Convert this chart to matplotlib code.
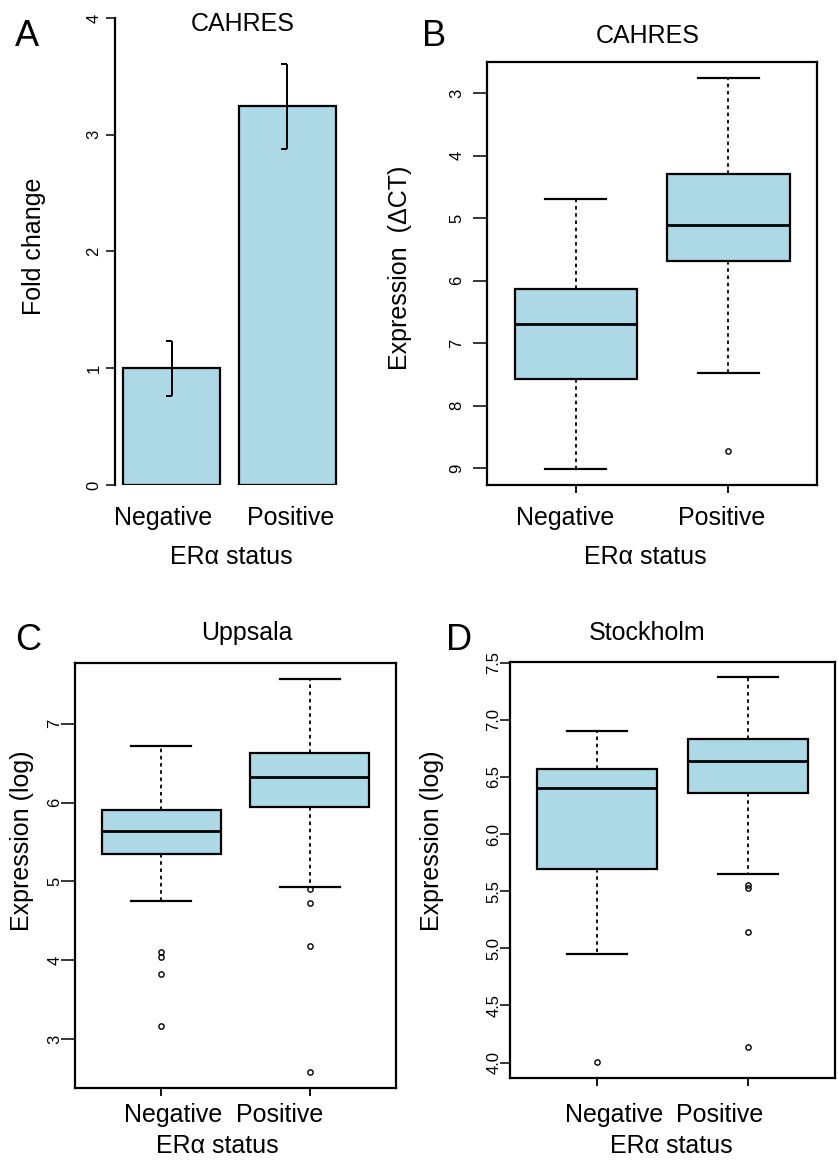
import matplotlib
matplotlib.use('Agg')
import matplotlib.pyplot as plt
import numpy as np

plt.rcParams['font.family'] = ['Liberation Sans', 'DejaVu Sans']

# ---------------- data ----------------
groups = ['Negative', 'Positive']

# Panel A: CAHRES fold change (bar + error)
fold_change = [1.00, 3.25]
fold_err_low = [0.76, 2.88]
fold_err_high = [1.23, 3.61]
a_ticks = [0, 1, 2, 3, 4]

# Panel B: CAHRES expression (delta CT), y axis reversed
b_whislo = [4.70, 2.75]
b_q1 = [6.14, 4.30]
b_med = [6.69, 5.11]
b_q3 = [7.58, 5.68]
b_whishi = [9.02, 7.47]
b_fliers = [[], [8.73]]
b_ticks = [3, 4, 5, 6, 7, 8, 9]

# Panel C: Uppsala
c_whislo = [4.75, 4.93]
c_q1 = [5.35, 5.94]
c_med = [5.64, 6.33]
c_q3 = [5.90, 6.63]
c_whishi = [6.72, 7.57]
c_fliers = [[4.10, 4.04, 3.83, 3.16], [4.90, 4.72, 4.18, 2.58]]
c_ticks = [3, 4, 5, 6, 7]

# Panel D: Stockholm
d_whislo = [4.95, 5.65]
d_q1 = [5.69, 6.36]
d_med = [6.40, 6.64]
d_q3 = [6.565, 6.83]
d_whishi = [6.90, 7.37]
d_fliers = [[4.005], [5.55, 5.53, 5.14, 4.14]]
d_ticks = [4.0, 4.5, 5.0, 5.5, 6.0, 6.5, 7.0, 7.5]
d_ticklabels = ['4.0', '4.5', '5.0', '5.5', '6.0', '6.5', '7.0', '7.5']

FILL = '#ADD8E6'
W, H = 838, 1162
fig = plt.figure(figsize=(W / 100, H / 100), dpi=100)

TICK_FS = 12
LAB_FS = 18
TITLE_FS = 18
LET_FS = 26
PT = 72 / 100  # points per pixel


def ax_px(x0, y0, x1, y1):
    return fig.add_axes([x0 / W, 1 - y1 / H, (x1 - x0) / W, (y1 - y0) / H])


def ftext(x, y, s, **kw):
    fig.text(x / W, 1 - y / H, s, ha='center', va='center', **kw)


def style_y(ax, ticks, labels=None, ticklen=10, labdist=28):
    ax.set_yticks(ticks)
    ax.set_yticklabels(labels if labels is not None else [str(t) for t in ticks],
                       rotation=90, va='center', ha='center', fontsize=TICK_FS)
    ax.tick_params(axis='y', direction='out', length=ticklen * PT, width=1.1,
                   pad=(labdist - ticklen - 8) * PT)


def boxpanel(ax, whislo, q1, med, q3, whishi, fliers):
    stats = []
    for i in range(len(groups)):
        stats.append(dict(whislo=whislo[i], q1=q1[i], med=med[i], q3=q3[i],
                          whishi=whishi[i], fliers=fliers[i]))
    ax.bxp(stats, positions=[1, 2], widths=0.8, capwidths=0.4, patch_artist=True,
           boxprops=dict(facecolor=FILL, edgecolor='black', linewidth=1.6),
           medianprops=dict(color='black', linewidth=2.0),
           whiskerprops=dict(color='black', linewidth=1.3, linestyle=(0, (2, 2))),
           capprops=dict(color='black', linewidth=1.6),
           flierprops=dict(marker='o', markersize=3.8, markerfacecolor='none',
                           markeredgecolor='black', markeredgewidth=1.0))
    ax.set_xlim(0.42, 2.58)
    ax.set_xticks([1, 2])
    ax.set_xticklabels([])
    for s in ax.spines.values():
        s.set_linewidth(1.6)
    ax.tick_params(axis='x', direction='out', length=8 * PT, width=1.3)


# ---------------- Panel A ----------------
axA = ax_px(115, 18, 344, 485)
xpos = [0.7, 1.9]
axA.bar(xpos, fold_change, width=1.0, color=FILL, edgecolor='black', linewidth=1.6)
axA.vlines(xpos, fold_err_low, fold_err_high, color='black', linewidth=1.4)
cap = [(-1, 0), (0, 0)]
axA.plot(xpos, fold_err_high, linestyle='none', marker=cap, markersize=8,
         markeredgecolor='black', markeredgewidth=1.4)
axA.plot(xpos, fold_err_low, linestyle='none', marker=cap, markersize=8,
         markeredgecolor='black', markeredgewidth=1.4)
axA.set_xlim(0.112, 2.488)
axA.set_ylim(0, 4)
for k in ['top', 'right', 'bottom']:
    axA.spines[k].set_visible(False)
axA.spines['left'].set_linewidth(1.6)
style_y(axA, a_ticks, ticklen=9, labdist=29)
axA.set_xticks([])

ftext(27, 36, 'A', fontsize=LET_FS)
ftext(243, 24, 'CAHRES', fontsize=TITLE_FS)
ftext(34, 246, 'Fold change', fontsize=LAB_FS, rotation=90)
ftext(163, 518, groups[0], fontsize=LAB_FS)
ftext(291, 518, groups[1], fontsize=LAB_FS)
ftext(231, 557, 'ERα status', fontsize=LAB_FS)

# ---------------- Panel B ----------------
axB = ax_px(487, 62, 817, 485)
boxpanel(axB, b_whislo, b_q1, b_med, b_q3, b_whishi, b_fliers)
axB.set_ylim(9.27, 2.5)
style_y(axB, b_ticks, ticklen=14, labdist=38)
ftext(434, 37, 'B', fontsize=LET_FS)
ftext(648, 36, 'CAHRES', fontsize=TITLE_FS)
ftext(400, 268, 'Expression  (ΔCT)', fontsize=LAB_FS, rotation=90)
ftext(565, 518, groups[0], fontsize=LAB_FS)
ftext(722, 518, groups[1], fontsize=LAB_FS)
ftext(645, 557, 'ERα status', fontsize=LAB_FS)

# ---------------- Panel C ----------------
axC = ax_px(75, 663, 396, 1088)
boxpanel(axC, c_whislo, c_q1, c_med, c_q3, c_whishi, c_fliers)
axC.set_ylim(2.38, 7.77)
style_y(axC, c_ticks, ticklen=14, labdist=28)
ftext(28, 641, 'C', fontsize=LET_FS)
ftext(247, 633, 'Uppsala', fontsize=TITLE_FS)
ftext(22, 841, 'Expression (log)', fontsize=LAB_FS, rotation=90)
ftext(173, 1115, groups[0], fontsize=LAB_FS)
ftext(280, 1115, groups[1], fontsize=LAB_FS)
ftext(217, 1146, 'ERα status', fontsize=LAB_FS)

# ---------------- Panel D ----------------
axD = ax_px(510, 662, 835, 1078)
boxpanel(axD, d_whislo, d_q1, d_med, d_q3, d_whishi, d_fliers)
axD.set_ylim(3.865, 7.505)
style_y(axD, d_ticks, d_ticklabels, ticklen=10, labdist=24)
ftext(459, 641, 'D', fontsize=LET_FS)
ftext(647, 633, 'Stockholm', fontsize=TITLE_FS)
ftext(432, 841, 'Expression (log)', fontsize=LAB_FS, rotation=90)
ftext(614, 1115, groups[0], fontsize=LAB_FS)
ftext(720, 1115, groups[1], fontsize=LAB_FS)
ftext(671, 1146, 'ERα status', fontsize=LAB_FS)

fig.savefig('out.png', dpi=100)
